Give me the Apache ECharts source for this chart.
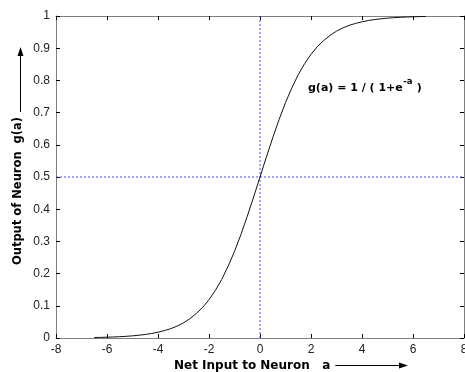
<!DOCTYPE html>
<html><head><meta charset="utf-8">
<script src="https://cdn.jsdelivr.net/npm/echarts@6/dist/echarts.min.js"></script>
<style>html,body{margin:0;padding:0;background:#fff}#c{width:465px;height:372px}</style>
</head><body><div id="c"></div>
<script>
var netInput = [-6.5,-6.25,-6,-5.75,-5.5,-5.25,-5,-4.75,-4.5,-4.25,-4,-3.75,-3.5,-3.25,-3,-2.75,-2.5,-2.25,-2,-1.75,-1.5,-1.25,-1,-0.75,-0.5,-0.25,
  0,0.25,0.5,0.75,1,1.25,1.5,1.75,2,2.25,2.5,2.75,3,3.25,3.5,3.75,4,4.25,4.5,4.75,5,5.25,5.5,5.75,6,6.25,6.5];
var output = [0.0015,0.0019,0.0025,0.0032,0.0041,0.0052,0.0067,0.0086,0.011,0.014,0.018,0.023,0.029,0.037,0.047,0.060,0.076,0.095,0.119,0.148,0.182,0.223,0.269,0.321,0.378,0.438,
  0.5,0.562,0.622,0.679,0.731,0.777,0.818,0.852,0.881,0.905,0.924,0.940,0.953,0.963,0.971,0.977,0.982,0.986,0.989,0.9914,0.9933,0.9948,0.9959,0.9968,0.9975,0.9981,0.9985];
var xTicks = [-8,-6,-4,-2,0,2,4,6,8];
var yTicks = [0,0.1,0.2,0.3,0.4,0.5,0.6,0.7,0.8,0.9,1];
var xTitle = 'Net Input to Neuron   a';
var yTitle = 'Output of Neuron  g(a)';
var eqMain = 'g(a) = 1 / ( 1+e';
var eqSup = '-a';
var eqEnd = ' )';
var refX = 0, refY = 0.5;

var chart = echarts.init(document.getElementById('c'), null, {renderer:'canvas'});
var pts = netInput.map(function(x,i){return [x, output[i]];});
var xMin = xTicks[0], xMax = xTicks[xTicks.length-1];
var yMin = yTicks[0], yMax = yTicks[yTicks.length-1];
var font = 'Liberation Sans, Arial, sans-serif';
var ctx = document.createElement('canvas').getContext('2d');
function tw(t, f){ctx.font = f; return ctx.measureText(t).width;}
var titleFont = 'bold 12px DejaVu Sans';
var yTitleFont = 'bold 11.5px DejaVu Sans';
var eqFont = 'bold 11px DejaVu Sans';
var supFont = 'bold 8.5px DejaVu Sans';
var eqX = 308, eqY = 88;
var w1 = tw(eqMain, eqFont), w2 = tw(eqSup, supFont);
var xTitleW = tw(xTitle, titleFont);
var axisCommon = {
  axisLine:{show:true, onZero:false, lineStyle:{color:'#7f7f7f', width:1}},
  axisTick:{show:true, inside:true, length:4, lineStyle:{color:'#000'}},
  splitLine:{show:false}
};
var refStyle = {color:'#4d4dff', type:[2,2], width:1};
chart.setOption({
  animation:false,
  backgroundColor:'#fff',
  grid:{left:56, right:1, top:16, bottom:34, show:false, containLabel:false, outerBoundsMode:'none'},
  xAxis:[Object.assign({type:'value', min:xMin, max:xMax, interval:2, position:'bottom'}, axisCommon, {axisLabel:{color:'#222', fontFamily:font, fontSize:12, margin:6, showMaxLabel:true, hideOverlap:false}}),
         Object.assign({type:'value', min:xMin, max:xMax, interval:2, position:'top'}, axisCommon, {axisLabel:{show:false}})],
  yAxis:[Object.assign({type:'value', min:yMin, max:yMax, interval:0.1, position:'left'}, axisCommon, {axisLabel:{color:'#222', fontFamily:font, fontSize:12, margin:6, formatter:function(v){return String(Math.round(v*10)/10);}}}),
         Object.assign({type:'value', min:yMin, max:yMax, interval:0.1, position:'right'}, axisCommon, {axisLabel:{show:false}})],
  series:[
    {type:'line', data:[[refX,yMin],[refX,yMax]], showSymbol:false, symbol:'none', silent:true, lineStyle:refStyle, z:1},
    {type:'line', data:[[xMin,refY],[xMax,refY]], showSymbol:false, symbol:'none', silent:true, lineStyle:refStyle, z:1},
    {type:'line', data:pts, showSymbol:false, symbol:'none', smooth:false, lineStyle:{color:'#111', width:1}, z:2}
  ],
  graphic:[
    {type:'text', x:eqX, y:eqY, style:{text:eqMain, font:eqFont, fill:'#000', verticalAlign:'middle'}},
    {type:'text', x:eqX+w1+0.5, y:eqY-6, style:{text:eqSup, font:supFont, fill:'#000', verticalAlign:'middle'}},
    {type:'text', x:eqX+w1+w2+1, y:eqY, style:{text:eqEnd, font:eqFont, fill:'#000', verticalAlign:'middle'}},
    {type:'text', x:174, y:366, style:{text:xTitle, font:titleFont, fill:'#000', verticalAlign:'middle'}},
    {type:'line', shape:{x1:174+xTitleW+5, y1:365.5, x2:401, y2:365.5}, style:{stroke:'#000', lineWidth:1}},
    {type:'polygon', shape:{points:[[408,365.5],[399,362.5],[399,368.5]]}, style:{fill:'#000'}},
    {type:'text', x:18, y:191, rotation:Math.PI/2, style:{text:yTitle, font:yTitleFont, fill:'#000', align:'center', verticalAlign:'middle'}},
    {type:'line', shape:{x1:20.5, y1:112, x2:20.5, y2:55}, style:{stroke:'#000', lineWidth:1}},
    {type:'polygon', shape:{points:[[20.5,47],[17.5,56],[23.5,56]]}, style:{fill:'#000'}}
  ]
});
</script></body></html>
